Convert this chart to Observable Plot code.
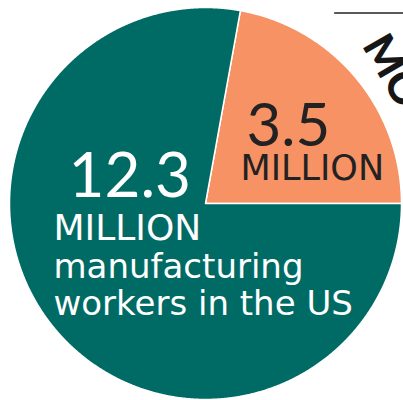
<!DOCTYPE html>
<html>
<head>
<meta charset="utf-8">
<script src="https://cdn.jsdelivr.net/npm/d3@7"></script>
<script src="https://cdn.jsdelivr.net/npm/@observablehq/plot@0.6"></script>
<style>
  html, body { margin: 0; padding: 0; background: #ffffff; overflow: hidden; }
  #chart svg { display: block; }
</style>
</head>
<body>
<div id="chart"></div>
<script>
// ---- data ----
const categories = ["manufacturing workers in the US", "highlighted group"];
const values = [12.3, 3.5];
const units = ["MILLION", "MILLION"];
const descLines = ["manufacturing", "workers in the US"];
const colors = ["#006b65", "#f69264"];
const headerFragment = "MO";

// ---- geometry of the pie (built from the values) ----
const total = d3.sum(values);
// the highlighted slice ends at 3 o'clock, the main slice continues clockwise
const order = [1, 0];
const offset = Math.PI / 2 - (values[1] / total) * 2 * Math.PI;
const arcs = d3.pie().sort(null).value(i => values[i])
  .startAngle(offset).endAngle(offset + 2 * Math.PI)(order);

const pt = a => [Math.sin(a), -Math.cos(a)];
const slices = {
  type: "FeatureCollection",
  features: arcs.map(a => {
    const n = Math.max(2, Math.ceil((a.endAngle - a.startAngle) / (Math.PI / 720)));
    const ring = [[0, 0]];
    for (let k = 0; k <= n; ++k) ring.push(pt(a.startAngle + (a.endAngle - a.startAngle) * k / n));
    ring.push([0, 0]);
    return {type: "Feature", properties: {category: categories[a.data], value: values[a.data]},
            geometry: {type: "Polygon", coordinates: [ring]}};
  })
};

const fmt = d3.format(".1f");
const numFont = "Lato";
const wordFont = "DejaVu Sans";
const ML = 9, MT = 7;

const chart = Plot.plot({
  width: 403,
  height: 400,
  marginLeft: ML, marginTop: MT, marginRight: 2, marginBottom: 1,
  projection: {type: "identity", domain: slices, clip: false},
  color: {domain: categories, range: colors},
  style: {fontFamily: numFont, background: "#ffffff", overflow: "hidden"},
  marks: [
    Plot.geo(slices.features, {fill: d => d.properties.category, stroke: "#ffffff", strokeWidth: 1.5}),
    // decorative header rule & fragment of the title (top right)
    Plot.geo([{type: "LineString", coordinates: [[0.66, -0.972], [1.05, -0.972]]}], {stroke: "#5a5a5a", strokeWidth: 2}),
    Plot.text([headerFragment], {frameAnchor: "top-left", dx: 361 - ML, dy: 45 - MT, rotate: 60,
      textAnchor: "start", lineAnchor: "bottom", fontSize: 43, fontWeight: 900, fill: "#161616"}),
    // main slice labels
    Plot.text([values[0]], {text: d => fmt(d), frameAnchor: "top-left", dx: 68 - ML, dy: 196 - MT,
      textAnchor: "start", lineAnchor: "bottom", fontSize: 62, fill: "#ffffff"}),
    Plot.text([units[0]], {frameAnchor: "top-left", dx: 53 - ML, dy: 239 - MT, fontFamily: wordFont,
      textAnchor: "start", lineAnchor: "bottom", fontSize: 36, fill: "#ffffff"}),
    Plot.text([descLines[0]], {frameAnchor: "top-left", dx: 53 - ML, dy: 277 - MT, fontFamily: wordFont,
      textAnchor: "start", lineAnchor: "bottom", fontSize: 34, fill: "#ffffff"}),
    Plot.text([descLines[1]], {frameAnchor: "top-left", dx: 53 - ML, dy: 314 - MT, fontFamily: wordFont,
      textAnchor: "start", lineAnchor: "bottom", fontSize: 34, fill: "#ffffff"}),
    // highlighted slice labels
    Plot.text([values[1]], {text: d => fmt(d), frameAnchor: "top-left", dx: 246 - ML, dy: 145 - MT,
      textAnchor: "start", lineAnchor: "bottom", fontSize: 60, fill: "#222222"}),
    Plot.text([units[1]], {frameAnchor: "top-left", dx: 240 - ML, dy: 179 - MT, fontFamily: wordFont,
      textAnchor: "start", lineAnchor: "bottom", fontSize: 35, fill: "#222222"})
  ]
});
document.getElementById("chart").append(chart);
</script>
</body>
</html>
